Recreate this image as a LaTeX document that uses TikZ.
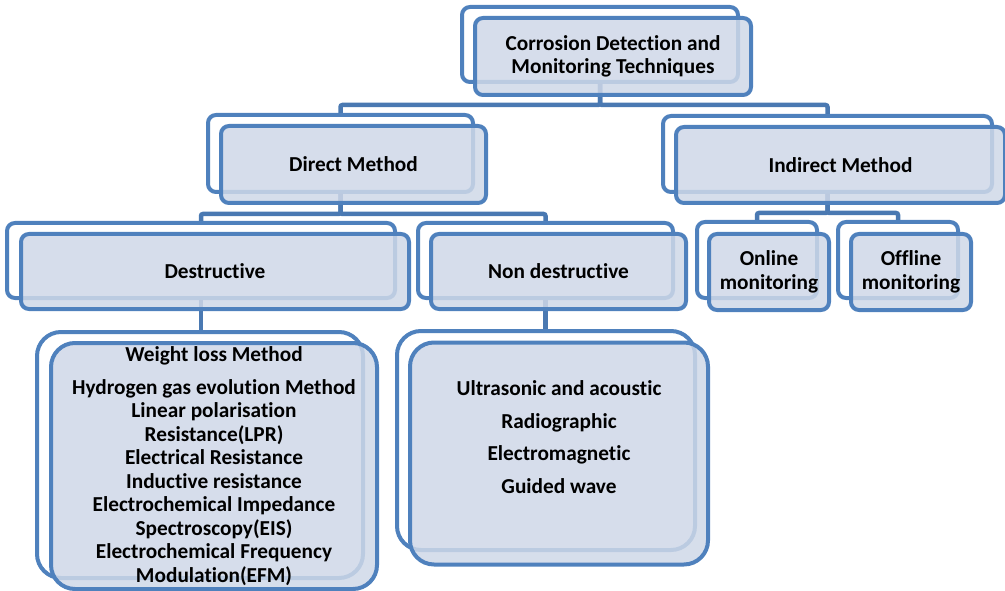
\documentclass[tikz,border=0pt]{standalone}
\usepackage{fontspec}
\setmainfont{Carlito}[Ligatures=NoCommon]
\usetikzlibrary{calc}
\definecolor{boxblue}{HTML}{4F81BD}
\definecolor{boxfill}{HTML}{CFD8E8}
\definecolor{linkblue}{HTML}{4A79B2}

\begin{document}
\begin{tikzpicture}[
    x=1pt, y=-1pt,
    backbox/.style={draw=boxblue, line width=4pt, fill=white, rounded corners=8pt, inner sep=0pt},
    frontbox/.style={draw=boxblue, line width=4pt, fill=boxfill, fill opacity=0.85, text opacity=1, rounded corners=8pt, align=center, inner sep=2pt, font=\fontsize{21.3}{23.5}\selectfont\bfseries},
    link/.style={draw=linkblue, line width=4.5pt, rounded corners=2pt}
]
\useasboundingbox (0,0) rectangle (1005,591);

% back frames (the real node positions)
\node[backbox, minimum width=276pt, minimum height=75pt] (root) at (600,44.5) {};
\node[backbox, minimum width=265pt, minimum height=77pt] (direct) at (340.5,153.5) {};
\node[backbox, minimum width=329pt, minimum height=76pt] (indirect) at (827.5,154) {};
\node[backbox, minimum width=388pt, minimum height=75pt] (destr) at (201,260.5) {};
\node[backbox, minimum width=255pt, minimum height=75pt] (nondestr) at (545.5,260.5) {};
\node[backbox, minimum width=120pt, minimum height=76pt] (online) at (757,260) {};
\node[backbox, minimum width=120pt, minimum height=76pt] (offline) at (898,260) {};
\node[backbox, minimum width=326pt, minimum height=246pt, rounded corners=24pt] (wlist) at (200,455) {};
\node[backbox, minimum width=298pt, minimum height=219pt, rounded corners=24pt] (ndlist) at (546,440.5) {};

% connectors
\draw[link] (root.south) -- ++(0,21) -| (direct.north);
\draw[link] (root.south) -- ++(0,21) -| (indirect.north);
\draw[link] (direct.south) -- ++(0,20) -| (destr.north);
\draw[link] (direct.south) -- ++(0,20) -| (nondestr.north);
\draw[link] (indirect.south) -- ++(0,19) -| (online.north);
\draw[link] (indirect.south) -- ++(0,19) -| (offline.north);
\draw[link] (destr.south) -- (destr.south |- wlist.north);
\draw[link] (nondestr.south) -- (nondestr.south |- ndlist.north);

% front panels with the texts
\node[frontbox, minimum width=276pt, minimum height=77pt] (rootf) at ($(root)+(13,12)$)
    {Corrosion Detection and\\Monitoring Techniques};
\node[frontbox, minimum width=265pt, minimum height=77pt] (directf) at ($(direct)+(13,11)$) {Direct Method};
\node[frontbox, minimum width=329pt, minimum height=76pt] (indirectf) at ($(indirect)+(13,11)$) {Indirect Method};
\node[frontbox, minimum width=388pt, minimum height=75pt] (destrf) at ($(destr)+(14,11)$) {Destructive};
\node[frontbox, minimum width=255pt, minimum height=75pt] (nondestrf) at ($(nondestr)+(13,11)$) {Non destructive};
\node[frontbox, minimum width=120pt, minimum height=76pt] (onlinef) at ($(online)+(12,12)$) {Online\\monitoring};
\node[frontbox, minimum width=120pt, minimum height=76pt] (offlinef) at ($(offline)+(13,12)$) {Offline\\monitoring};
\node[frontbox, minimum width=326pt, minimum height=246pt, rounded corners=24pt] (wlistf) at ($(wlist)+(14,11)$)
    {Weight loss Method\\[9pt]
     Hydrogen gas evolution Method\\
     Linear polarisation\\
     Resistance(LPR)\\
     Electrical Resistance\\
     Inductive resistance\\
     Electrochemical Impedance\\
     Spectroscopy(EIS)\\
     Electrochemical Frequency\\
     Modulation(EFM)};
\node[frontbox, minimum width=298pt, minimum height=222pt, rounded corners=24pt] (ndlistf) at ($(ndlist)+(13,13)$)
    {Ultrasonic and acoustic\\[9pt]
     Radiographic\\[9pt]
     Electromagnetic\\[9pt]
     Guided wave\\[9pt]
     ~};

\end{tikzpicture}
\end{document}
